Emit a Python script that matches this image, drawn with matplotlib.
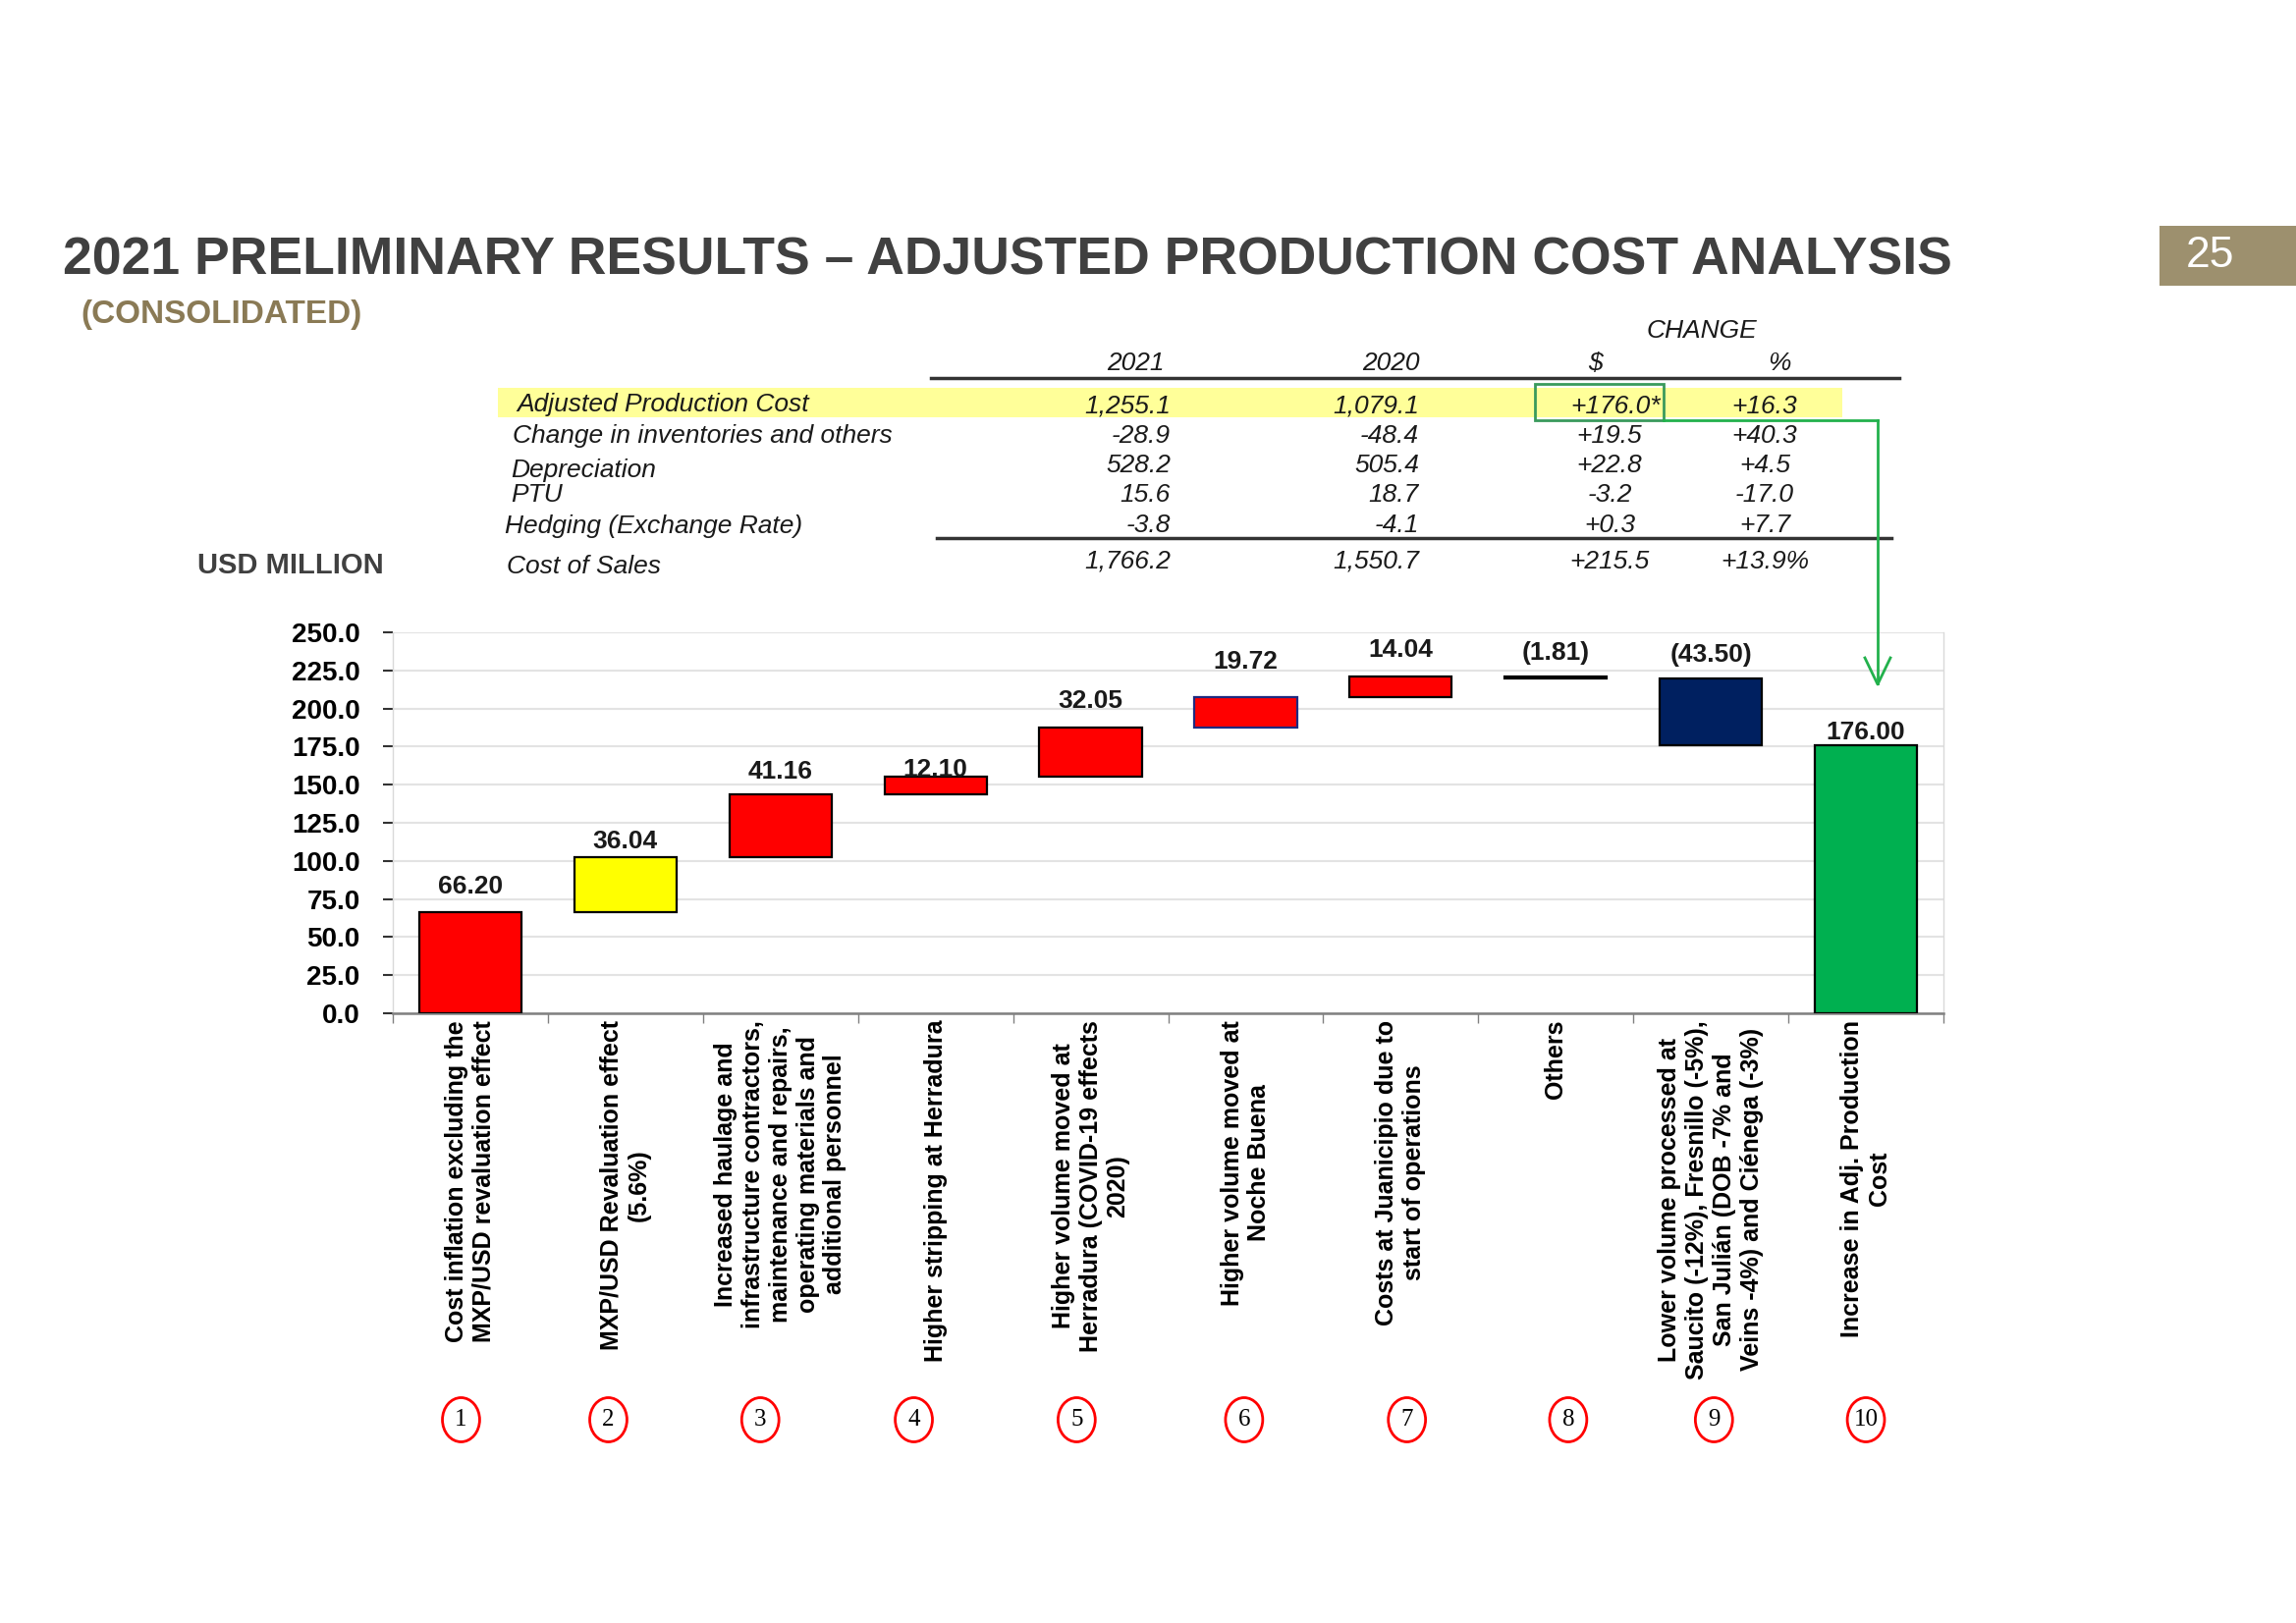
import numpy as np
import matplotlib
matplotlib.use("Agg")
import matplotlib.pyplot as plt
import matplotlib.transforms as mtransforms
from matplotlib.patches import Rectangle, Ellipse
from matplotlib.lines import Line2D

plt.rcParams['font.family'] = ['Liberation Sans', 'DejaVu Sans']

# datos de la cascada
categorias = [
    "Cost inflation excluding the\nMXP/USD revaluation effect",
    "MXP/USD Revaluation effect\n(5.6%)",
    "Increased haulage and\ninfrastructure contractors,\nmaintenance and repairs,\noperating materials and\nadditional personnel",
    "Higher stripping at Herradura",
    "Higher volume moved at\nHerradura (COVID-19 effects\n2020)",
    "Higher volume moved at\nNoche Buena",
    "Costs at Juanicipio due to\nstart of operations",
    "Others",
    "Lower volume processed at\nSaucito (-12%), Fresnillo (-5%),\nSan Julián (DOB -7% and\nVeins -4%) and Ciénega (-3%)",
    "Increase in Adj. Production\nCost",
]
pasos = [66.20, 36.04, 41.16, 12.10, 32.05, 19.72, 14.04, -1.81, -43.50]
total = 176.00
y_ticks = [0, 25, 50, 75, 100, 125, 150, 175, 200, 225, 250]

# datos de la tabla
filas = ["Adjusted Production Cost", "Change in inventories and others", "Depreciation",
         "PTU", "Hedging (Exchange Rate)", "Cost of Sales"]
v2021 = [1255.1, -28.9, 528.2, 15.6, -3.8, 1766.2]
v2020 = [1079.1, -48.4, 505.4, 18.7, -4.1, 1550.7]
cambio = [176.0, 19.5, 22.8, -3.2, 0.3, 215.5]
cambio_pct = [16.3, 40.3, 4.5, -17.0, 7.7, 13.9]

# estilos
colores = ['#FF0000', '#FFFF00', '#FF0000', '#FF0000', '#FF0000', '#FF0000',
           '#FF0000', '#000000', '#002060', '#00B050']
bordes = ['black'] * 5 + ['#1F2A80'] + ['black'] * 4
pad_etiq = [13.7, 6.5, 11.5, 0, 14.4, 20.9, 14.4, 12.2, 12.2, 4.3]  # puntos
desp_circ = [-0.06, -0.11, -0.13, -0.14, -0.09, -0.01, 0.04, 0.08, 0.02, 0.0]
gris = '#404040'
verde = '#22B14C'

W, H = 2338, 1653
fig = plt.figure(figsize=(W / 100, H / 100), dpi=100)
# pixeles con origen arriba a la izquierda
px = mtransforms.Affine2D().scale(1 / W, -1 / H).translate(0, 1) + fig.transFigure

# titulo
fig.text(64, 280, "2021 PRELIMINARY RESULTS – ADJUSTED PRODUCTION COST ANALYSIS",
         transform=px, fontsize=38.5, fontweight='bold', color=gris, va='baseline')
fig.text(82, 329, "(CONSOLIDATED)", transform=px, fontsize=24, fontweight='bold',
         color='#8A7A55', va='baseline')
fig.add_artist(Rectangle((2199, 230), 139, 61, transform=px, color='#9D906E', lw=0))
fig.text(2251, 261, "25", transform=px, fontsize=32, color='white', ha='center', va='center')
fig.text(201, 584, "USD MILLION", transform=px, fontsize=21, fontweight='bold',
         color=gris, va='baseline')

# tabla
fig.add_artist(Rectangle((507, 395), 1369, 30, transform=px, color='#FFFF99', lw=0, zorder=0))
fig.add_artist(Line2D([948, 1934], [385, 385], transform=px, color='#333333', lw=2.5))
fig.add_artist(Line2D([954, 1926], [548, 548], transform=px, color='#333333', lw=2.5))
tab = dict(transform=px, fontsize=19, style='italic', color='#1a1a1a', va='baseline')
fig.text(1733, 344, "CHANGE", ha='center', **tab)
for txt, xc in zip(["2021", "2020", "$", "%"], [1156, 1416, 1624, 1812]):
    fig.text(xc, 377, txt, ha='center', **tab)
y_lab = [419, 451, 486, 511, 543, 584]
y_num = [421, 451, 481, 511, 542, 579]
x_lab = [526, 522, 520, 520, 514, 516]
for i in range(len(filas)):
    fig.text(x_lab[i], y_lab[i], filas[i], ha='left', **tab)
    fig.text(1192, y_num[i], f"{v2021[i]:,.1f}", ha='right', **tab)
    fig.text(1445, y_num[i], f"{v2020[i]:,.1f}", ha='right', **tab)
    s = f"{cambio[i]:+.1f}" + ("*" if i == 0 else "")
    fig.text(1639 + (6 if i == 0 else 0), y_num[i], s, ha='center', **tab)
    p = f"{cambio_pct[i]:+.1f}" + ("%" if i == len(filas) - 1 else "")
    fig.text(1797, y_num[i], p, ha='center', **tab)

# recuadro y flecha verde
fig.add_artist(Rectangle((1563, 391), 131, 37, transform=px, fill=False,
                         edgecolor='#3A9A5C', lw=2))
fig.add_artist(Line2D([1694, 1912], [428, 428], transform=px, color=verde, lw=2))
fig.add_artist(Line2D([1912, 1912], [428, 696], transform=px, color=verde, lw=2))
fig.add_artist(Line2D([1899, 1912, 1925], [670, 697, 670], transform=px, color=verde, lw=2))

# grafico de cascada
ax = fig.add_axes([400 / W, 1 - 1032 / H, (1979 - 400) / W, (1032 - 644) / H])
fin = np.cumsum(pasos)
ini = fin - np.array(pasos)
bottoms = list(np.minimum(ini, fin)) + [0]
alturas = list(np.abs(pasos)) + [total]
tops = np.array(bottoms) + np.array(alturas)
x = np.arange(len(categorias))
ax.bar(x, alturas, bottom=bottoms, width=0.66, color=colores, edgecolor=bordes,
       linewidth=1.6, zorder=3)

valores = pasos + [total]
for i, v in enumerate(valores):
    txt = f"{v:.2f}" if v >= 0 else f"({-v:.2f})"
    ax.annotate(txt, (x[i], tops[i]), xytext=(0, pad_etiq[i]), textcoords='offset points',
                ha='center', va='baseline', fontsize=19, fontweight='bold', color='#1a1a1a')

ax.set_xlim(-0.5, len(categorias) - 0.5)
ax.set_ylim(0, 250)
ax.set_yticks(y_ticks)
ax.set_yticklabels([f"{t:.1f}" for t in y_ticks], fontsize=20, fontweight='bold')
ax.tick_params(axis='y', length=7, width=1.5, color='#333333', pad=17)
ax.set_xticks(x)
ax.set_xticklabels(categorias, rotation=90, fontsize=18, fontweight='bold',
                   multialignment='center')
ax.tick_params(axis='x', length=0, pad=5)
ax.set_xticks(np.arange(-0.5, len(categorias)), minor=True)
ax.tick_params(axis='x', which='minor', length=7, width=1, color='#808080', direction='out')
ax.grid(axis='y', color='#E3E3E3', lw=1.5)
ax.set_axisbelow(True)
for lado in ['left', 'right']:
    ax.spines[lado].set_color('#D9D9D9')
    ax.spines[lado].set_linewidth(1)
ax.spines['top'].set_visible(False)
ax.spines['bottom'].set_color('#808080')
ax.spines['bottom'].set_linewidth(1.8)

# numeros en circulos
trans = mtransforms.blended_transform_factory(ax.transData, fig.transFigure)
yc = 1 - 1446 / H
for i in range(len(categorias)):
    xc = x[i] + desp_circ[i]
    fig.add_artist(Ellipse((xc, yc), 0.24, 45 / H, transform=trans, fill=False,
                           edgecolor='#FF0000', lw=2))
    fig.text(xc, yc, str(i + 1), transform=trans, ha='center', va='center',
             fontsize=18, family=['Liberation Serif', 'DejaVu Serif'])

fig.savefig("out.png", dpi=100)
